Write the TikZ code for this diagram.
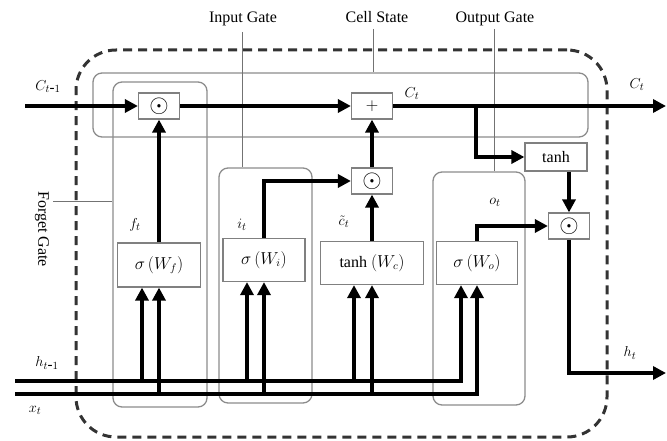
\documentclass[tikz,border=0pt]{standalone}
\usepackage{fontspec}
\setmainfont{Liberation Serif}
\usetikzlibrary{arrows.meta}
\begin{document}
\begin{tikzpicture}[x=1pt,y=-1pt,
  region/.style={draw=black!45, line width=1.3pt, rounded corners=9pt, inner sep=0pt},
  outer/.style={draw=black!80, line width=3pt, dash pattern=on 9pt off 6pt, rounded corners=40pt, inner sep=0pt},
  opbox/.style={draw=black!50, line width=1.2pt, fill=white, inner sep=0pt, minimum width=41pt, minimum height=26pt, font=\fontsize{16}{19}\selectfont},
  dotbox/.style={opbox, font=\fontsize{23}{23}\selectfont},
  gatebox/.style={draw=black!50, line width=1.2pt, fill=white, inner sep=0pt, minimum height=43pt, font=\fontsize{16}{19}\selectfont},
  flow/.style={line width=3.6pt, -{Triangle[length=13pt,width=13pt]}},
  lead/.style={draw=black!55, line width=1pt},
  lbl/.style={font=\fontsize{16}{19}\selectfont, inner sep=0pt},
  sym/.style={font=\fontsize{15}{18}\selectfont, inner sep=0pt}
]
\useasboundingbox (0,0) rectangle (667,441);

% regions
\node[outer, minimum width=531pt, minimum height=387pt] (cell) at (341.5,243.5) {};
\node[region, minimum width=495pt, minimum height=64pt] (cs) at (340.5,105) {};
\node[region, minimum width=94pt, minimum height=325pt] (fg) at (160,244.5) {};
\node[region, minimum width=93pt, minimum height=235pt] (ig) at (265.5,285.5) {};
\node[region, minimum width=92pt, minimum height=233pt] (og) at (479,288.5) {};

% region labels
\node[lbl, anchor=base] (lblI) at (243,23) {Input Gate};
\node[lbl, anchor=base] (lblC) at (377,23) {Cell State};
\node[lbl, anchor=base] (lblO) at (495,23) {Output Gate};
\node[lbl, rotate=-90] (lblF) at (42,229) {Forget Gate};
\coordinate (li) at (242,32);
\coordinate (lc) at (373,29);
\coordinate (lo) at (494,29);
\coordinate (lf) at (53,201);
\draw[lead] (li) -- (li |- ig.north);
\draw[lead] (lc) -- (lc |- cs.north);
\draw[lead] (lo) -- (lo |- og.north);
\draw[lead] (lf) -- (lf -| fg.west);

% operation boxes
\node[dotbox] (m1) at (159,106) {$\odot$};
\node[opbox] (plus) at (372,106) {$+$};
\node[dotbox] (m2) at (372,181) {$\odot$};
\node[opbox, minimum width=62pt, minimum height=28pt] (th) at (556,157) {tanh};
\node[dotbox] (m3) at (569,226) {$\odot$};

% gate boxes
\node[gatebox, minimum width=83pt, minimum height=44pt] (gf) at (159,265) {$\sigma\,(W_f)$};
\node[gatebox, minimum width=82pt] (gi) at (264,260) {$\sigma\,(W_i)$};
\node[gatebox, minimum width=103pt] (gc) at (372,263) {tanh $(W_c)$};
\node[gatebox, minimum width=81pt] (go) at (477,263) {$\sigma\,(W_o)$};

% cell state line
\coordinate (cin) at (25,106);
\coordinate (cout) at (666,106);
\coordinate (br) at (476,106);
\draw[flow] (cin) -- (m1.west);
\draw[flow] (m1.east) -- (plus.west);
\draw[flow] (plus.east) -- (cout);
\draw[flow] (br) |- (th.west);
\draw[flow] (th.south -| m3.north) -- (m3.north);
\coordinate (hout) at (666,373);
\draw[flow] (m3.south) |- (hout);

% gate outputs
\draw[flow] (gf.north) -- (m1.south);
\draw[flow] (gi.north) |- (m2.west);
\draw[flow] (gc.north) -- (m2.south);
\draw[flow] (m2.north) -- (plus.south);
\draw[flow] (go.north) |- (m3.west);

% inputs
\coordinate (hin) at (15,381);
\coordinate (xin) at (15,394);
\coordinate (goh) at ([xshift=-16pt]go.south);
\coordinate (gfh) at ([xshift=-17pt]gf.south);
\coordinate (gih) at ([xshift=-17pt]gi.south);
\coordinate (gch) at ([xshift=-18pt]gc.south);
\draw[flow] (hin) -| (goh);
\draw[flow] (xin) -| (go.south);
\draw[flow] (gfh |- hin) -- (gfh);
\draw[flow] (gf.south |- xin) -- (gf.south);
\draw[flow] (gih |- hin) -- (gih);
\draw[flow] (gi.south |- xin) -- (gi.south);
\draw[flow] (gch |- hin) -- (gch);
\draw[flow] (gc.south |- xin) -- (gc.south);

% signal labels
\node[sym] (tc1) at (48,87) {$C_{t\mbox{-}1}$};
\node[sym] (tc2) at (412,94) {$C_t$};
\node[sym] (tc3) at (637,85) {$C_t$};
\node[sym] (tf) at (135,225) {$f_t$};
\node[sym] (ti) at (242,225) {$i_t$};
\node[sym] (tct) at (344,222) {$\tilde{c}_t$};
\node[sym] (to) at (495,202) {$o_t$};
\node[sym] (th1) at (47,363) {$h_{t\mbox{-}1}$};
\node[sym] (tx) at (35,410) {$x_t$};
\node[sym] (tht) at (630,353) {$h_t$};
\end{tikzpicture}
\end{document}
